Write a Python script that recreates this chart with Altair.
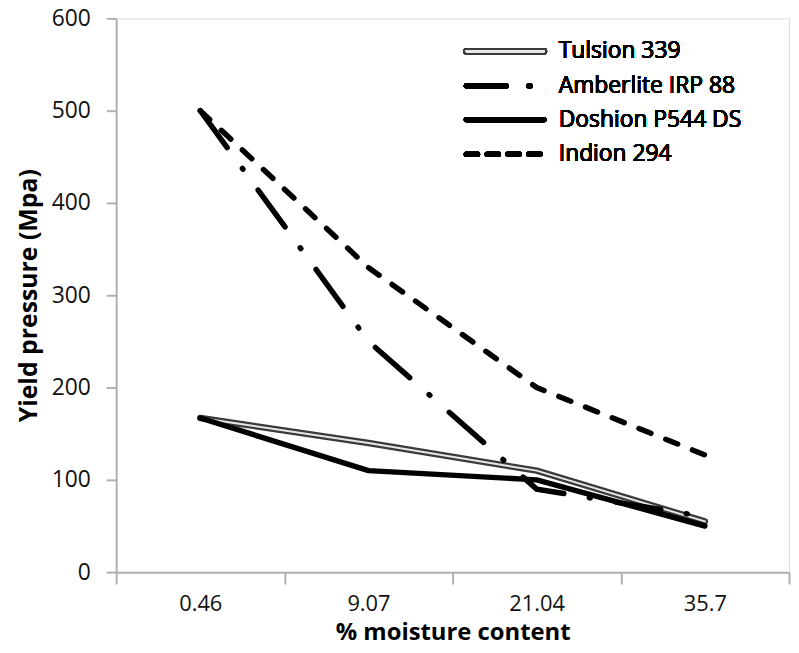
import altair as alt
import pandas as pd

moisture = ["0.46", "9.07", "21.04", "35.7"]
tulsion = [167, 140, 110, 55]
amberlite = [500, 250, 90, 60]
doshion = [167, 110, 100, 50]
indion = [500, 330, 200, 127]

names = ["Tulsion 339", "Amberlite IRP 88", "Doshion P544 DS", "Indion 294"]
series = [tulsion, amberlite, doshion, indion]

rows = []
for n, vals in zip(names, series):
    for m, v in zip(moisture, vals):
        rows.append({"series": n, "moisture": m, "value": v})
df = pd.DataFrame(rows)

FONT = "Open Sans"
W, H = 678, 558

x_enc = alt.X("moisture:N", sort=moisture, bandPosition=0.5,
              scale=alt.Scale(type="band", paddingInner=0, paddingOuter=0, domain=moisture),
              axis=alt.Axis(title="% moisture content", labelAngle=0, tickBand="extent",
                            domainColor="#b0b0b0", tickColor="#b0b0b0", domainWidth=2, tickWidth=2,
                            tickSize=12, labelFontSize=22, labelFont=FONT, labelColor="#111",
                            labelPadding=10, titleFontSize=24, titleFont=FONT, titleFontWeight="bold",
                            titleColor="#000", titlePadding=6))
y_enc = alt.Y("value:Q",
              scale=alt.Scale(domain=[0, 600], nice=False),
              axis=alt.Axis(title="Yield pressure (Mpa)", values=[0, 100, 200, 300, 400, 500, 600],
                            grid=False, domainColor="#b0b0b0", tickColor="#b0b0b0", domainWidth=2,
                            tickWidth=2, tickSize=10, labelFontSize=23, labelFont=FONT,
                            labelColor="#111", labelPadding=16, titleFontSize=25, titleFont=FONT,
                            titleFontWeight="bold", titleColor="#000", titlePadding=10))

def sel(name):
    return alt.Chart(df).transform_filter(alt.datum.series == name)

tul_outer = sel("Tulsion 339").mark_line(color="#3a3a3a", strokeWidth=6.5, strokeCap="round",
                                         strokeJoin="round").encode(x=x_enc, y=y_enc)
tul_inner = sel("Tulsion 339").mark_line(color="#e8e8e8", strokeWidth=2, strokeCap="round",
                                         strokeJoin="round").encode(x=x_enc, y=y_enc)
amb = sel("Amberlite IRP 88").mark_line(color="#000", strokeWidth=5.5, strokeCap="round",
                                         strokeDash=[46, 26, 1, 26]).encode(x=x_enc, y=y_enc)
dos = sel("Doshion P544 DS").mark_line(color="#000", strokeWidth=5.5, strokeCap="round",
                                        strokeJoin="round").encode(x=x_enc, y=y_enc)
ind = sel("Indion 294").mark_line(color="#000", strokeWidth=5.5, strokeCap="round",
                                   strokeDash=[13, 16]).encode(x=x_enc, y=y_enc)

# manual legend (pixel positions inside plot area)
leg_y = [33, 68, 102, 137]
lx1, lx2, ltx = 353, 431, 446
legend_layers = []
legend_layers.append(alt.Chart(df).mark_rule(color="#3a3a3a", strokeWidth=6.5, strokeCap="round").encode(
    x=alt.value(lx1), x2=alt.value(lx2), y=alt.value(leg_y[0])))
legend_layers.append(alt.Chart(df).mark_rule(color="#e8e8e8", strokeWidth=2, strokeCap="round").encode(
    x=alt.value(lx1), x2=alt.value(lx2), y=alt.value(leg_y[0])))
legend_layers.append(alt.Chart(df).mark_rule(color="#000", strokeWidth=5.5, strokeCap="round",
                                             strokeDash=[40, 23, 1, 30]).encode(
    x=alt.value(lx1), x2=alt.value(lx2), y=alt.value(leg_y[1])))
legend_layers.append(alt.Chart(df).mark_rule(color="#000", strokeWidth=5.5, strokeCap="round").encode(
    x=alt.value(lx1), x2=alt.value(lx2), y=alt.value(leg_y[2])))
legend_layers.append(alt.Chart(df).mark_rule(color="#000", strokeWidth=5.5, strokeCap="round",
                                             strokeDash=[11, 10]).encode(
    x=alt.value(lx1), x2=alt.value(lx2), y=alt.value(leg_y[3])))
for n, yy in zip(names, leg_y):
    legend_layers.append(alt.Chart(df).mark_text(text=n, align="left", baseline="middle",
                                                 fontSize=23, font=FONT, color="#000").encode(
        x=alt.value(ltx), y=alt.value(yy)))

chart = alt.layer(tul_outer, tul_inner, amb, dos, ind, *legend_layers).properties(
    width=W, height=H,
    autosize=alt.AutoSizeParams(type="none"),
    padding={"left": 109, "top": 8, "right": 2, "bottom": 78},
).configure_view(stroke=None).configure(background="#ffffff")

chart.save("out.html", embed_options={"renderer": "svg", "actions": False})
